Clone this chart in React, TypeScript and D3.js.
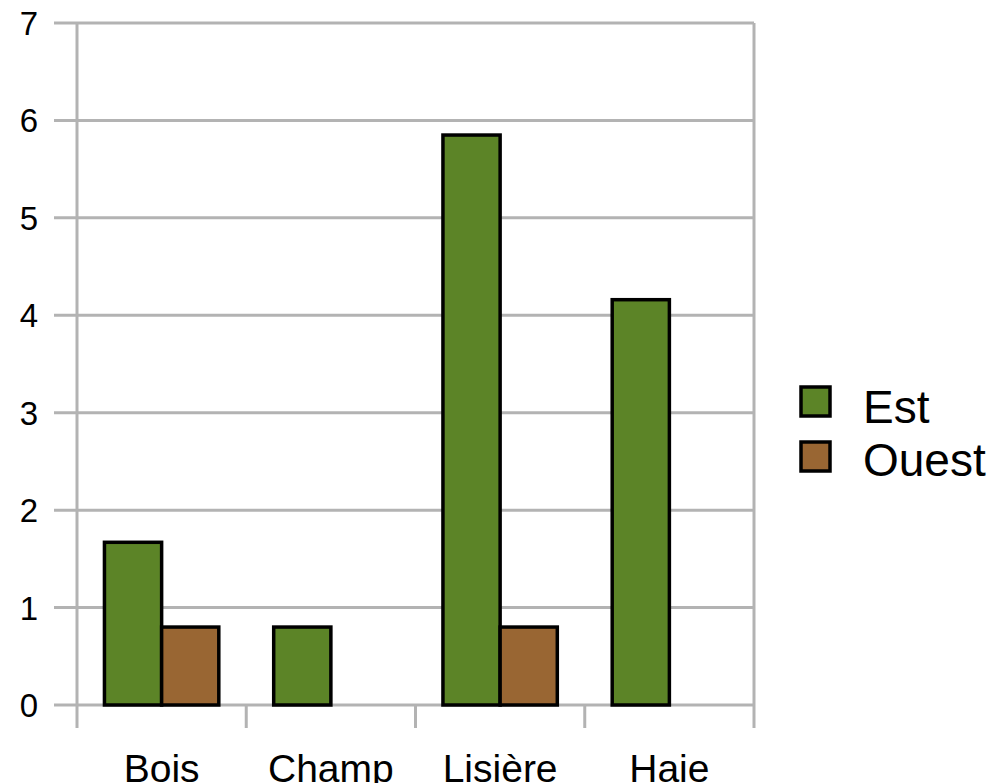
import React from "react";
import * as d3 from "d3";

const categories = ["Bois", "Champ", "Lisière", "Haie"];
const seriesNames = ["Est", "Ouest"];
const estValues = [1.67, 0.8, 5.85, 4.16];
const ouestValues = [0.8, 0, 0.8, 0];
const yTicks = [0, 1, 2, 3, 4, 5, 6, 7];
const colors = ["#5c8427", "#996633"];

export default function App() {
  const W = 990, H = 783;
  const left = 77, right = 754, top = 23, bottom = 705;
  const y = d3.scaleLinear().domain([0, 7]).range([bottom, top]);
  const x = d3.scaleBand<string>().domain(categories).range([left, right]).paddingInner(0).paddingOuter(0);
  const xi = d3.scaleBand<string>().domain(seriesNames).range([0, x.bandwidth()]).paddingInner(0).paddingOuter(0.48);
  const values = [estValues, ouestValues];
  const grid = "#b3b3b3";
  const font = "'Liberation Sans', Arial, sans-serif";
  const boundaries = [...categories.map((c) => x(c)!), right];

  return (
    <svg width={W} height={H} style={{ position: "absolute", left: 0, top: 0, background: "#fff" }}>
      {yTicks.map((t) => (
        <g key={t}>
          <line x1={54} x2={right} y1={y(t)} y2={y(t)} stroke={grid} strokeWidth={3} />
          <text x={38} y={y(t) + 12} textAnchor="end" fontFamily={font} fontSize={33} fill="#000">
            {t}
          </text>
        </g>
      ))}
      {boundaries.map((b, i) => (
        <line key={i} x1={b} x2={b} y1={i === 0 || i === boundaries.length - 1 ? top : bottom} y2={728} stroke={grid} strokeWidth={3} />
      ))}
      {categories.map((c, ci) =>
        seriesNames.map((s, si) => {
          const v = values[si][ci];
          if (!v) return null;
          return (
            <rect
              key={c + s}
              x={x(c)! + xi(s)!}
              y={y(v)}
              width={xi.bandwidth()}
              height={y(0) - y(v)}
              fill={colors[si]}
              stroke="#000"
              strokeWidth={3.5}
            />
          );
        })
      )}
      {categories.map((c) => (
        <text key={c} x={x(c)! + x.bandwidth() / 2} y={782} textAnchor="middle" fontFamily={font} fontSize={39} fill="#000">
          {c}
        </text>
      ))}
      {seriesNames.map((s, i) => (
        <g key={s}>
          <rect x={801} y={387 + i * 55} width={29} height={29} fill={colors[i]} stroke="#000" strokeWidth={3.5} />
          <text x={863} y={423 + i * 53} fontFamily={font} fontSize={46} fill="#000">
            {s}
          </text>
        </g>
      ))}
    </svg>
  );
}
